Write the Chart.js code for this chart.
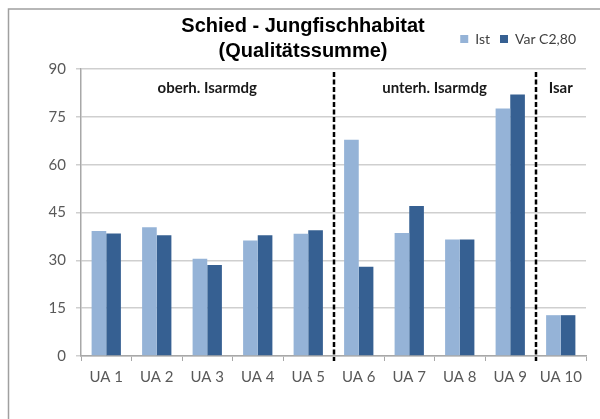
<!DOCTYPE html>
<html><head><meta charset="utf-8">
<script src="https://cdn.jsdelivr.net/npm/chart.js@4"></script>
<style>html,body{margin:0;padding:0;background:#fff}#wrap{width:600px;height:419px}</style>
</head><body><div id="wrap"><canvas id="c" width="600" height="419"></canvas></div>
<script>
const categories = ['UA 1','UA 2','UA 3','UA 4','UA 5','UA 6','UA 7','UA 8','UA 9','UA 10'];
const seriesNames = ['Ist','Var C2,80'];
const istValues = [39.2, 40.4, 30.5, 36.2, 38.3, 67.8, 38.6, 36.5, 77.6, 12.8];
const varValues = [38.4, 37.9, 28.5, 37.9, 39.4, 28.0, 47.0, 36.5, 82.0, 12.8];
const yTicks = [0, 15, 30, 45, 60, 75, 90];
const titleLines = ['Schied - Jungfischhabitat', '(Qualitätssumme)'];
const sectionNames = ['oberh. Isarmdg', 'unterh. Isarmdg', 'Isar'];
const sectionFirst = [0, 5, 9];
const sectionLast = [4, 8, 9];

const decor = {
  id: 'decor',
  beforeLayout(chart) {
    const lg = chart.legend;
    if (lg && !lg._patched) {
      const f = lg.fit;
      lg.fit = function () { f.call(this); this.height += 13; };
      lg._patched = true;
    }
  },
  beforeDraw(chart) {
    const ctx = chart.ctx;
    ctx.save();
    ctx.fillStyle = '#fff';
    ctx.fillRect(0, 0, chart.width, chart.height);
    ctx.strokeStyle = '#a0a0a0';
    ctx.lineWidth = 1.5;
    ctx.strokeRect(8.5, 9, 620, 440);
    ctx.restore();
  },
  afterDatasetsDraw(chart) {
    const ctx = chart.ctx, x = chart.scales.x, y = chart.scales.y, ca = chart.chartArea;
    ctx.save();
    ctx.strokeStyle = '#000';
    ctx.lineWidth = 2.5;
    ctx.setLineDash([5, 2.5]);
    for (let i = 1; i < sectionFirst.length; i++) {
      const px = Math.round(x.getPixelForValue(sectionFirst[i] - 0.5));
      ctx.beginPath();
      ctx.moveTo(px, ca.top + 3);
      ctx.lineTo(px, ca.bottom + 5);
      ctx.stroke();
    }
    ctx.setLineDash([]);
    ctx.font = 'bold 15px Lato';
    ctx.fillStyle = '#1a1a1a';
    ctx.textAlign = 'center';
    ctx.textBaseline = 'middle';
    const ly = y.getPixelForValue(84.1);
    sectionNames.forEach((n, i) => {
      const cx = (x.getPixelForValue(sectionFirst[i]) + x.getPixelForValue(sectionLast[i])) / 2;
      ctx.fillText(n, cx, ly);
    });
    ctx.font = 'bold 20px "Liberation Sans"';
    ctx.fillStyle = '#000';
    ctx.textBaseline = 'alphabetic';
    titleLines.forEach((t, i) => ctx.fillText(t, 303, 32 + i * 25));
    ctx.restore();
  }
};

new Chart(document.getElementById('c'), {
  type: 'bar',
  data: {
    labels: categories,
    datasets: [
      { label: seriesNames[0], data: istValues, backgroundColor: '#95b3d7' },
      { label: seriesNames[1], data: varValues, backgroundColor: '#366092' }
    ]
  },
  options: {
    responsive: false,
    animation: false,
    devicePixelRatio: 1,
    layout: { padding: { top: 22, right: 14, bottom: 26, left: 0 } },
    datasets: { bar: { categoryPercentage: 0.58, barPercentage: 1.0 } },
    scales: {
      x: {
        grid: { offset: true, drawOnChartArea: false, tickLength: 5, color: '#a8a8a8', lineWidth: 1 },
        border: { color: '#a8a8a8', width: 1.5 },
        ticks: { font: { family: 'Lato', size: 15 }, color: '#595959', padding: 7, maxRotation: 0, autoSkip: false }
      },
      y: {
        min: 0, max: 90,
        afterBuildTicks: (s) => { s.ticks = yTicks.map(v => ({ value: v })); },
        afterFit: (s) => { s.width = 81; },
        grid: { color: '#cfcfcf', lineWidth: 1.5, tickLength: 5 },
        border: { color: '#a8a8a8', width: 1.5 },
        ticks: { font: { family: 'Lato', size: 15 }, color: '#595959', padding: 10 }
      }
    },
    plugins: {
      legend: {
        position: 'top', align: 'end',
        labels: { boxWidth: 8, boxHeight: 8, font: { family: 'Lato', size: 14 }, color: '#404040', padding: 10 }
      },
      title: { display: false },
      tooltip: { enabled: false }
    }
  },
  plugins: [decor]
});
</script>
</body></html>
